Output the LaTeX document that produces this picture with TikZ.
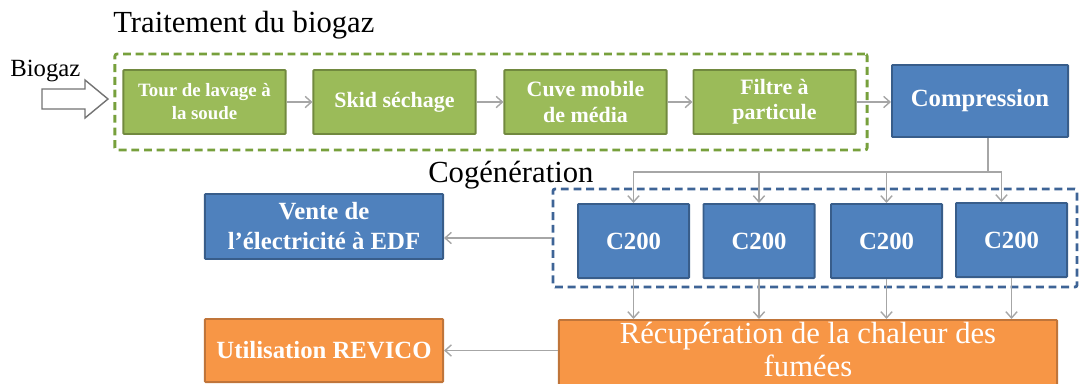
\documentclass[tikz,border=0pt]{standalone}
\usepackage{fontspec}
\setmainfont{Liberation Serif}
\usepackage{tikz}
\usetikzlibrary{arrows.meta}

\definecolor{boxgreen}{HTML}{9BBB59}
\definecolor{boxgreenline}{HTML}{71893F}
\definecolor{dashgreen}{HTML}{77A03C}
\definecolor{boxblue}{HTML}{4F81BD}
\definecolor{boxblueline}{HTML}{385D8A}
\definecolor{dashblue}{HTML}{3E6496}
\definecolor{boxorange}{HTML}{F79646}
\definecolor{boxorangeline}{HTML}{C0753A}
\definecolor{linkgray}{HTML}{A6A6A6}

\begin{document}
\begin{tikzpicture}[
		x=0.025cm, y=-0.025cm,
		every node/.style={inner sep=0pt},
		box/.style={rectangle, draw, line width=1.4pt, rounded corners=0.6pt, align=center, text=white},
		greenbox/.style={box, fill=boxgreen, draw=boxgreenline, minimum width=4.05cm, minimum height=1.6cm,
			font=\fontsize{15.6}{17.8}\selectfont\bfseries},
		bluebox/.style={box, fill=boxblue, draw=boxblueline, font=\fontsize{17.6}{21.3}\selectfont\bfseries},
		orangebox/.style={box, fill=boxorange, draw=boxorangeline, font=\fontsize{17.6}{21.3}\selectfont\bfseries},
		groupbox/.style={rectangle, line width=2pt, dash pattern=on 5.6pt off 3.4pt, rounded corners=1.5pt},
		heading/.style={anchor=base west, font=\fontsize{21.8}{26}\selectfont},
		link/.style={draw=linkgray, line width=1pt, -{Straight Barb[length=4.5pt, width=8pt]}},
		linkline/.style={draw=linkgray, line width=1pt}
	]
  \useasboundingbox (0,0) rectangle (1080,383);

  \node (traitement) [groupbox, draw=dashgreen, minimum width=18.8cm, minimum height=2.4cm] at (491,102) {};
  \node (cogeneration) [groupbox, draw=dashblue, minimum width=13.1cm, minimum height=2.45cm] at (815,238) {};

  \node (titre) [heading] at (113,32) {Traitement du biogaz};
  \node (cogen_label) [heading] at (428,182) {Cogénération};
  \node (biogaz) [anchor=base west, font=\fontsize{17.6}{21}\selectfont] at (10,76) {Biogaz};

  \node (tour) [greenbox, font=\fontsize{13.4}{16.4}\selectfont\bfseries] at (204.5,102) {Tour de lavage à\\la soude};
  \node (skid) [greenbox] at (394.5,102) {Skid séchage};
  \node (cuve) [greenbox] at (585.5,102) {Cuve mobile\\de média};
  \node (filtre) [greenbox] at (774.5,102) {Filtre à\\particule};
  \node (comp) [bluebox, minimum width=4.4cm, minimum height=1.8cm] at (980,101) {Compression};

  \node (c1) [bluebox, minimum width=2.775cm, minimum height=1.85cm] at (633.5,241) {C200};
  \node (c2) [bluebox, minimum width=2.775cm, minimum height=1.85cm] at (759,241) {C200};
  \node (c3) [bluebox, minimum width=2.775cm, minimum height=1.85cm] at (886.5,241) {C200};
  \node (c4) [bluebox, minimum width=2.775cm, minimum height=1.85cm] at (1011.5,240) {C200};

  \node (vente) [bluebox, minimum width=5.95cm, minimum height=1.625cm] at (324,226.5) {Vente de\\l’électricité à EDF};
  \node (util) [orangebox, minimum width=5.95cm, minimum height=1.575cm] at (324,350.5) {Utilisation REVICO};
  \node (recup) [orangebox, minimum width=12.45cm, minimum height=1.75cm, text depth=8pt,
    font=\fontsize{21.8}{23}\selectfont] at (808,355) {Récupération de la chaleur des\\fumées};

  \draw[draw=black!55, fill=white, line width=1pt]
    (42,89) -- (85,89) -- (85,80) -- (108,99) -- (85,118) -- (85,109) -- (42,109) -- cycle;

  \draw[link] (tour) -- (skid);
  \draw[link] (skid) -- (cuve);
  \draw[link] (cuve) -- (filtre);
  \draw[link] (filtre.east) -- (filtre.east -| comp.west);

  \coordinate (split) at (988,172);
  \draw[linkline] (comp.south -| split) -- (split);
  \draw[link] (split) -| (c1.north);
  \draw[link] (split) -| (c2.north);
  \draw[link] (split) -| (c3.north);
  \draw[link] (split) -| ([xshift=-0.25cm]c4.north);
  \foreach \c in {c1,c2,c3,c4}
    \draw[link] (\c.south) -- (\c.south |- recup.north);

  \draw[link] (cogeneration.west) -- (cogeneration.west -| vente.east);
  \draw[link] (recup.west |- util.east) -- (util.east);
\end{tikzpicture}
\end{document}
